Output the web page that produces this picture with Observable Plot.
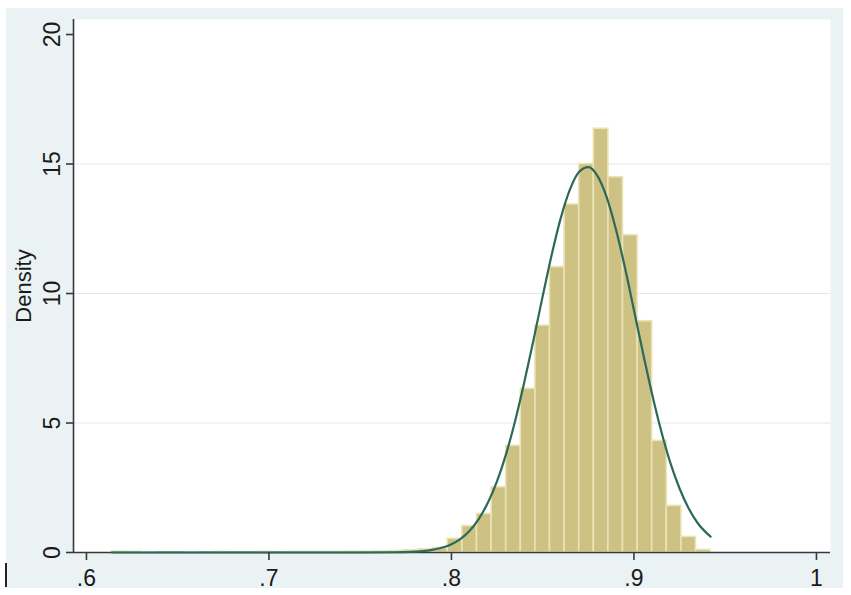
<!DOCTYPE html>
<html>
<head>
<meta charset="utf-8">
<script src="https://cdn.jsdelivr.net/npm/d3@7"></script>
<script src="https://cdn.jsdelivr.net/npm/@observablehq/plot@0.6"></script>
<style>
  body { margin: 0; background: #ffffff; }
  #wrap { position: relative; width: 851px; height: 595px; overflow: hidden; }
  #bg { position: absolute; left: 6px; top: 8px; width: 837px; height: 580px; background: #eaf2f3; }
  #mark { position: absolute; left: 5px; top: 563px; width: 2px; height: 24px; background: #222; }
  #chart { position: absolute; left: 0; top: 0; }
</style>
</head>
<body>
<div id="wrap">
  <div id="bg"></div>
  <div id="mark"></div>
  <div id="chart"></div>
</div>
<script>
// ---- data ----
const xTicks = [0.6, 0.7, 0.8, 0.9, 1];
const xTickLabels = [".6", ".7", ".8", ".9", "1"];
const yTicks = [0, 5, 10, 15, 20];
const yTickLabels = ["0", "5", "10", "15", "20"];
const gridValues = [5, 10, 15];
const yTitle = "Density";

// histogram: 41 bins of width 0.008 starting at 0.614
const binStart = 0.614;
const binWidth = 0.008;
const densities = [
  0.03, 0.02, 0.00, 0.01, 0.01, 0.00, 0.01, 0.02, 0.01, 0.01,
  0.02, 0.01, 0.02, 0.02, 0.02, 0.02, 0.03, 0.03, 0.04, 0.06,
  0.08, 0.12, 0.17, 0.53, 1.02, 1.49, 2.52, 4.12, 6.32, 8.76,
  11.02, 13.44, 15.00, 16.36, 14.49, 12.25, 8.93, 4.31, 1.80, 0.60,
  0.10
];

// overlaid normal density curve
const curveX = [0.614, 0.70, 0.75, 0.77, 0.78, 0.79, 0.80, 0.805, 0.81, 0.815,
  0.82, 0.825, 0.83, 0.835, 0.84, 0.845, 0.85, 0.855, 0.86, 0.865,
  0.87, 0.875, 0.88, 0.885, 0.89, 0.895, 0.90, 0.905, 0.91, 0.915,
  0.92, 0.925, 0.93, 0.935, 0.942];
const curveY = [0.00, 0.00, 0.00, 0.01, 0.03, 0.11, 0.32, 0.53, 0.84, 1.30,
  1.93, 2.76, 3.82, 5.11, 6.60, 8.22, 9.90, 11.52, 12.94, 14.03,
  14.70, 14.88, 14.54, 13.73, 12.51, 11.02, 9.36, 7.69, 6.10, 4.67,
  3.45, 2.47, 1.70, 1.13, 0.61];

// ---- build ----
const xDomain = [0.5929, 1.0077];
const yDomain = [0, 20.58];

const bars = densities.map((d, i) => ({
  x1: binStart + i * binWidth,
  x2: binStart + (i + 1) * binWidth,
  y: d
}));
const curve = curveX.map((x, i) => ({x, y: curveY[i]}));

const axisColor = "#383838";

const chart = Plot.plot({
  width: 851,
  height: 595,
  marginLeft: 73,
  marginRight: 21,
  marginTop: 19,
  marginBottom: 43,
  style: {
    background: "transparent",
    fontFamily: "'Liberation Sans', Arial, sans-serif",
    fontSize: "23px",
    color: "#1a1a1a"
  },
  x: {domain: xDomain},
  y: {domain: yDomain},
  marks: [
    Plot.frame({fill: "white", stroke: null}),
    Plot.gridY(gridValues, {stroke: "#e1e9eb", strokeOpacity: 1, strokeWidth: 1.2}),
    Plot.rectY(bars, {x1: "x1", x2: "x2", y: "y", fill: "#cdc283", stroke: "#ebe3b6", strokeWidth: 1.6}),
    Plot.ruleY([0], {stroke: axisColor, strokeWidth: 1.6}),
    Plot.ruleX([xDomain[0]], {stroke: axisColor, strokeWidth: 1.6}),
    Plot.line(curve, {x: "x", y: "y", stroke: "#2c695a", strokeWidth: 2.2, curve: "monotone-x"}),
    Plot.axisX({
      ticks: xTicks, tickSize: 8, tickPadding: 9, stroke: axisColor, strokeWidth: 1.6,
      tickFormat: d => xTickLabels[xTicks.indexOf(d)], fontSize: 23, fill: "#1a1a1a", label: null
    }),
    Plot.axisY({
      ticks: yTicks, tickSize: 7, stroke: axisColor, strokeWidth: 1.6,
      tickFormat: () => "", label: null
    }),
    Plot.text(yTicks, {
      y: d => d, text: (d, i) => yTickLabels[i], frameAnchor: "left",
      dx: -21, rotate: -90, fontSize: 23, fill: "#1a1a1a",
      textAnchor: "middle", lineAnchor: "middle"
    }),
    Plot.text([yTitle], {
      text: d => d, frameAnchor: "left", dx: -50, rotate: -90,
      fontSize: 22, fill: "#1a1a1a", textAnchor: "middle", lineAnchor: "middle"
    })
  ]
});
document.getElementById("chart").appendChild(chart);
</script>
</body>
</html>
